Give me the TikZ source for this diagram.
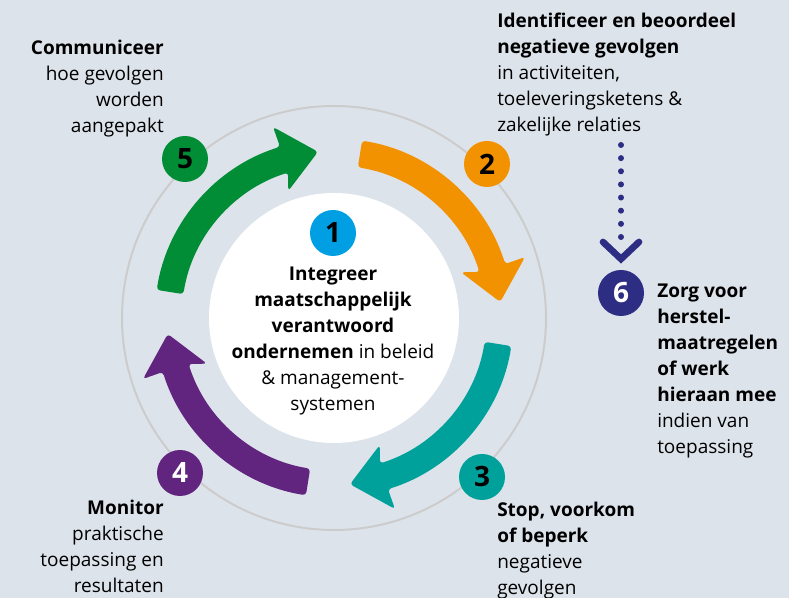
\documentclass[tikz,border=0pt]{standalone}
\usepackage{fontspec}
\setmainfont{Open Sans}
\usetikzlibrary{calc}
\definecolor{bgc}{HTML}{DDE3EB}
\definecolor{ringc}{HTML}{CCCCCC}
\definecolor{c1}{HTML}{009FE3}
\definecolor{c2}{HTML}{F39200}
\definecolor{c3}{HTML}{00A19A}
\definecolor{c4}{HTML}{62257F}
\definecolor{c5}{HTML}{008D36}
\definecolor{c6}{HTML}{2D2E83}
\tikzset{
  lbl/.style={inner sep=0pt, font={\fontsize{14.25}{19.5}\selectfont}},
  numc/.style={circle, inner sep=0pt, minimum size=34.5pt, font={\fontsize{21}{24}\selectfont\bfseries}},
  band/.style={rounded corners=2.5pt},
}
\newcommand{\cyclearrow}{(81:179.5) arc[start angle=81,end angle=17.5,radius=179.5] -- (17.7:200.5) -- (5.5:167) -- (19.8:135) -- (17.5:152.5) arc[start angle=17.5,end angle=81,radius=152.5] -- cycle}
\begin{document}
\begin{tikzpicture}[x=0.75pt,y=0.75pt]
\fill[bgc] (0,0) rectangle (789,598);
\useasboundingbox (0,0) rectangle (789,598);
\coordinate (C) at (334,280);
\draw[ringc, line width=1.5pt] (C) circle (212);
\fill[white] (C) circle (125);
% arrows
\begin{scope}[shift={(C)}]
  \fill[c2, band] \cyclearrow;
  \begin{scope}[rotate=-90] \fill[c3, band] \cyclearrow; \end{scope}
  \begin{scope}[rotate=-180] \fill[c4, band] \cyclearrow; \end{scope}
  \begin{scope}[rotate=-270] \fill[c5, band] \cyclearrow; \end{scope}
\end{scope}
% number circles
\node[numc, fill=c1, text=black] (n1) at (333,365) {1};
\node[numc, fill=c2, text=black] (n2) at (487,434) {2};
\node[numc, fill=c3, text=black] (n3) at (482,121) {3};
\node[numc, fill=c4, text=white] (n4) at (180,125) {4};
\node[numc, fill=c5, text=black] (n5) at (185,439) {5};
\node[numc, fill=c6, text=white] (n6) at (621,305) {6};
% texts (anchor base = baseline of last line)
\node[lbl, anchor=base, align=center] (t1) at (333,187)
  {\textbf{Integreer}\\\textbf{maatschappelijk}\\\textbf{verantwoord}\\\textbf{ondernemen} in beleid\\\& management-\\systemen};
\node[lbl, anchor=base east, align=right] (t5) at (164,465)
  {\textbf{Communiceer}\\hoe gevolgen\\worden\\aangepakt};
\node[lbl, anchor=base west, align=left] (t2) at (497,466)
  {\textbf{Identificeer en beoordeel}\\\textbf{negatieve gevolgen}\\in activiteiten,\\toeleveringsketens \&\\zakelijke relaties};
\node[lbl, anchor=base west, align=left] (t6) at (657,144)
  {\textbf{Zorg voor}\\\textbf{herstel-}\\\textbf{maatregelen}\\\textbf{of werk}\\\textbf{hieraan mee}\\indien van\\toepassing};
\node[lbl, anchor=base east, align=right] (t4) at (164,5)
  {\textbf{Monitor}\\praktische\\toepassing en\\resultaten};
\node[lbl, anchor=base west, align=left] (t3) at (497,3)
  {\textbf{Stop, voorkom}\\\textbf{of beperk}\\negatieve\\gevolgen};
% dotted connector to 6
\coordinate (dtop) at (621,453);
\coordinate (dbot) at ($(n6.center)+(0,56)$);
\draw[c6, line width=4.5pt, line cap=round, dash pattern=on 0pt off 9.857pt] (dtop) -- (dbot);
\draw[c6, line width=5pt, line cap=round, line join=miter] ($(n6.center)+(-18,51)$) -- ($(n6.center)+(0,34)$) -- ($(n6.center)+(18,51)$);
\end{tikzpicture}
\end{document}
